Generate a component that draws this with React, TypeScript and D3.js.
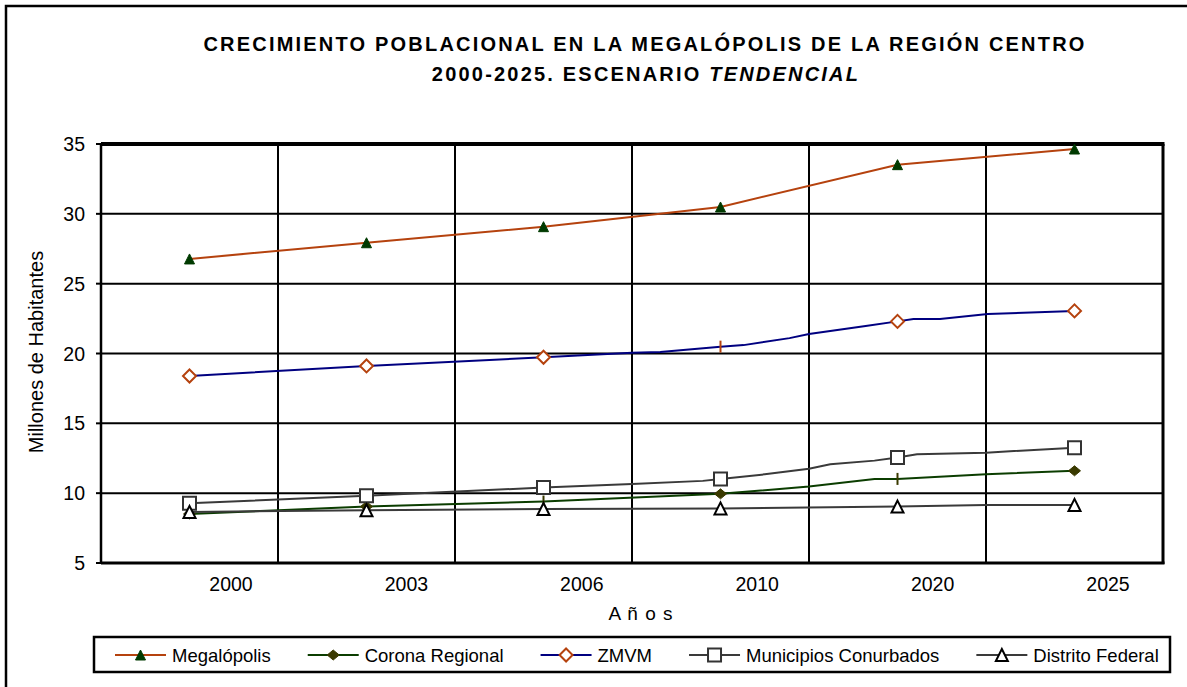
import React from 'react';
import * as d3 from 'd3';

const years = ['2000', '2003', '2006', '2010', '2020', '2025'];
const yTicks = [5, 10, 15, 20, 25, 30, 35];

// [posición en el eje de años, millones de habitantes]
// los marcadores van en las posiciones enteras (una por año)
const megalopolis = [[0, 26.77], [1, 27.93], [2, 29.08], [3, 30.49], [4, 33.52], [5, 34.64]];
const coronaRegional = [[0, 8.51], [1, 9.04], [2, 9.4], [3, 9.95], [3.5, 10.47], [3.87, 11.02], [4, 11.02], [4.5, 11.36], [5, 11.6]];
const zmvm = [[0, 18.39], [1, 19.11], [2, 19.73], [2.5, 20.05], [2.66, 20.1], [3, 20.49], [3.13, 20.6], [3.39, 21.1], [3.5, 21.4], [3.82, 21.97], [4, 22.3], [4.09, 22.47], [4.24, 22.47], [4.51, 22.83], [5, 23.05]];
const municipiosConurbados = [[0, 9.28], [1, 9.82], [2, 10.4], [2.5, 10.66], [2.9, 10.88], [3, 11.02], [3.25, 11.35], [3.5, 11.75], [3.62, 12.07], [3.87, 12.33], [4, 12.55], [4.11, 12.79], [4.5, 12.9], [5, 13.26]];
const distritoFederal = [[0, 8.66], [1, 8.78], [2, 8.87], [3, 8.91], [4, 9.04], [4.5, 9.16], [5, 9.16]];

// puntos donde el marcador sale como una rayita
const coronaTicks = [2, 4];
const zmvmTicks = [3];

const FONT = "'Liberation Sans', Arial, sans-serif";
const W = 1187;
const H = 687;
const plot = { left: 101, right: 1163, top: 144, bottom: 563 };

const series = [
  { name: 'Megalópolis', data: megalopolis, line: '#b5420e', marker: 'triFill', fill: '#003a00', stroke: '#003a00', ticks: [] },
  { name: 'Corona Regional', data: coronaRegional, line: '#0b3d00', marker: 'diamondFill', fill: '#3a3a00', stroke: '#3a3a00', ticks: coronaTicks },
  { name: 'ZMVM', data: zmvm, line: '#000080', marker: 'diamond', fill: '#fff', stroke: '#b5420e', ticks: zmvmTicks },
  { name: 'Municipios Conurbados', data: municipiosConurbados, line: '#3a3a3a', marker: 'square', fill: '#fff', stroke: '#333', ticks: [] },
  { name: 'Distrito Federal', data: distritoFederal, line: '#3a3a3a', marker: 'tri', fill: '#fff', stroke: '#000', ticks: [] },
];

const markerPath = (kind: string) => {
  switch (kind) {
    case 'triFill':
      return 'M0,-5L5,5L-5,5Z';
    case 'diamondFill':
      return 'M0,-5L6,0L0,5L-6,0Z';
    case 'diamond':
      return 'M0,-6.5L6.5,0L0,6.5L-6.5,0Z';
    case 'square':
      return 'M-6.5,-6.5H6.5V6.5H-6.5Z';
    case 'tri':
      return 'M0,-6L6,6L-6,6Z';
    default:
      return '';
  }
};

const Marker = ({ s, x, y, tick }: any) =>
  tick ? (
    <line x1={x} x2={x} y1={y - 6} y2={y + 6} stroke={s.stroke} strokeWidth={2} />
  ) : (
    <path
      d={markerPath(s.marker)}
      transform={`translate(${x},${y})`}
      fill={s.fill}
      stroke={s.stroke}
      strokeWidth={s.marker.endsWith('Fill') ? 1 : 2}
    />
  );

let ctx: CanvasRenderingContext2D | null = null;
const textWidth = (txt: string, size: number) => {
  if (!ctx) ctx = document.createElement('canvas').getContext('2d');
  if (!ctx) return txt.length * size * 0.55;
  ctx.font = `${size}px ${FONT}`;
  return ctx.measureText(txt).width;
};

export default function App() {
  const x = d3.scaleLinear().domain([-0.5, years.length - 0.5]).range([plot.left, plot.right]);
  const y = d3.scaleLinear().domain([5, 35]).range([plot.bottom, plot.top]);
  const xLabel = d3.scalePoint().domain(years).range([231, 1108]);

  const line = d3
    .line<number[]>()
    .x(d => x(d[0]))
    .y(d => y(d[1]));

  // leyenda: cada entrada empieza tras el texto anterior
  const legendFont = 18.5;
  let cursor = 115;
  const legendItems = series.map(s => {
    const item = { s, x0: cursor, tx: cursor + 57 };
    cursor = item.tx + textWidth(s.name, legendFont) + 37;
    return item;
  });
  const legendY = 655;

  const gridX = d3.range(1, years.length).map(i => x(i - 0.5));

  return (
    <svg
      width={W}
      height={H}
      style={{ position: 'absolute', left: 0, top: 0, background: '#fff' }}
      fontFamily={FONT}
    >
      <rect x={0} y={0} width={W} height={H} fill="#fff" />
      {/* marco exterior */}
      <path d={`M6,${H}V6H${W}`} fill="none" stroke="#000" strokeWidth={2.5} />

      <text x={645} y={51} textAnchor="middle" fontSize={20} fontWeight="bold" letterSpacing={2.2}>
        CRECIMIENTO POBLACIONAL EN LA MEGALÓPOLIS DE LA REGIÓN CENTRO
      </text>
      <text x={646} y={81} textAnchor="middle" fontSize={20} fontWeight="bold" letterSpacing={2.2}>
        2000-2025. ESCENARIO <tspan fontStyle="italic">TENDENCIAL</tspan>
      </text>

      {/* rejilla */}
      {yTicks.slice(1, -1).map(t => (
        <line key={t} x1={plot.left} x2={plot.right} y1={y(t)} y2={y(t)} stroke="#000" strokeWidth={2} />
      ))}
      {gridX.map((gx, i) => (
        <line key={i} x1={gx} x2={gx} y1={plot.top} y2={plot.bottom} stroke="#000" strokeWidth={2} />
      ))}
      <line x1={plot.left} x2={plot.right + 1.5} y1={plot.top} y2={plot.top} stroke="#000" strokeWidth={4} />
      <line x1={plot.right} x2={plot.right} y1={plot.top} y2={plot.bottom + 1} stroke="#000" strokeWidth={3} />
      <line x1={plot.left} x2={plot.right + 1.5} y1={plot.bottom} y2={plot.bottom} stroke="#000" strokeWidth={3} />
      <line x1={plot.left} x2={plot.left} y1={plot.top} y2={plot.bottom} stroke="#000" strokeWidth={2.5} />

      {/* eje Y */}
      {yTicks.map(t => (
        <g key={t}>
          <line x1={96} x2={plot.left} y1={y(t)} y2={y(t)} stroke="#000" strokeWidth={2} />
          <text x={85} y={y(t)} dy="0.36em" textAnchor="end" fontSize={19.5}>
            {t}
          </text>
        </g>
      ))}
      <text transform="translate(43,352) rotate(-90)" textAnchor="middle" fontSize={20}>
        Millones de Habitantes
      </text>

      {/* eje X */}
      {years.map(yr => (
        <text key={yr} x={xLabel(yr)} y={591} textAnchor="middle" fontSize={19.5}>
          {yr}
        </text>
      ))}
      <text x={641} y={620} textAnchor="middle" fontSize={19} letterSpacing={1}>
        A ñ o s
      </text>

      {/* series */}
      {series.map(s => (
        <g key={s.name}>
          <path d={line(s.data) || ''} fill="none" stroke={s.line} strokeWidth={2} />
          {s.data
            .filter(d => Number.isInteger(d[0]))
            .map(d => (
              <Marker key={d[0]} s={s} x={x(d[0])} y={y(d[1])} tick={s.ticks.includes(d[0])} />
            ))}
        </g>
      ))}

      {/* leyenda */}
      <rect x={94} y={637} width={1076} height={35} fill="#fff" stroke="#000" strokeWidth={2.5} />
      {legendItems.map(({ s, x0, tx }) => (
        <g key={s.name}>
          <line x1={x0} x2={x0 + 51} y1={legendY} y2={legendY} stroke={s.line} strokeWidth={2} />
          <Marker s={s} x={x0 + 25.5} y={legendY} tick={false} />
          <text x={tx} y={legendY + 7} fontSize={legendFont}>
            {s.name}
          </text>
        </g>
      ))}
    </svg>
  );
}
